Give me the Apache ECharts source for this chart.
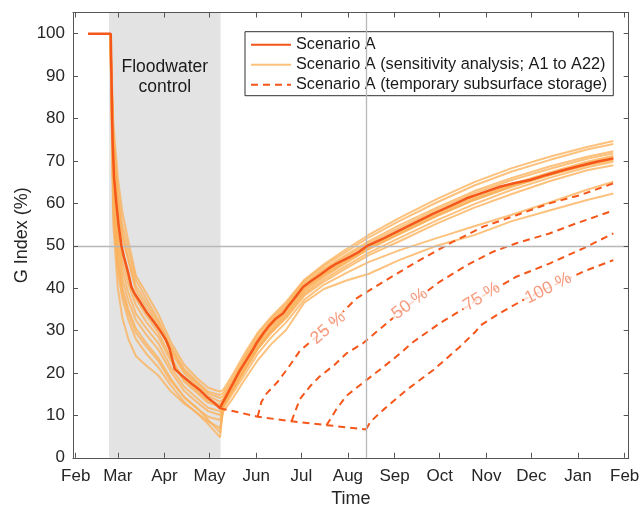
<!DOCTYPE html>
<html><head><meta charset="utf-8">
<script src="https://cdn.jsdelivr.net/npm/echarts@6/dist/echarts.min.js"></script>
<style>html,body{margin:0;padding:0;background:#fff}#c{width:643px;height:507px}</style>
</head><body><div id="c"></div>
<script>
// ---- axis ticks (days counted from 1 Feb) ----
const monthTicks = [0, 28, 59, 89, 120, 150, 181, 212, 242, 273, 303, 334, 365];
const monthLabels = ['Feb','Mar','Apr','May','Jun','Jul','Aug','Sep','Oct','Nov','Dec','Jan','Feb'];
const yTicks = [0, 10, 20, 30, 40, 50, 60, 70, 80, 90, 100];

// ---- Scenario A (main) [day, G index %] ----
const scenarioA = [[8.2,100],[23.3,100],[24.5,75],[25.5,66],[27,60],[28.5,55],[30.4,50],[32,47.5],[33.5,45.5],[35,43.5],
  [37,40.3],[39,38.8],[42,37.2],[47,34.4],[52,32],[55.9,30.1],[60,27.8],[62.5,25.6],[64,23.5],[65.9,20.9],[70,19.6],
  [74,18.4],[78,17.2],[83,15.8],[87,14.4],[92,13],[95.8,11.7],[100,14.5],[104.7,17.6],[109,20.5],[113.6,23.1],[117,25],
  [120.2,27],[125,29.5],[129,31.3],[133,32.8],[137.9,34.1],[141,35.6],[144.6,37.2],[148,38.8],[151.2,40.3],[157,41.8],
  [162.3,43.1],[168,44.6],[173.4,45.8],[178,46.6],[182.3,47.4],[188,48.5],[193.5,49.9],[205,51.8],[215.6,53.7],[227,55.7],
  [237.8,57.6],[250,59.5],[260,61.2],[268.8,62.3],[282,63.9],[292,64.8],[302,65.5],[313,66.7],[324,67.8],[335,68.8],
  [346.5,69.8],[357.5,70.6]];

// ---- sensitivity analysis runs (shared day grid) ----
const sensDays = [23,25,28,31,35,40,47,55,63,72,80,88,96,98,105,113,121,130,140,152,165,180,195,215,240,265,290,315,340,357.5];
const sens1  = [100,79,66,58,51,43,38.8,33.8,27.5,22,19,16.5,15.6,16,20,25,29.5,33.2,36.8,42,45.6,49.2,52.6,56.5,61,65,68.3,71,73.3,74.7];
const sens2  = [100,77,63,55,49,42,37.5,32.5,26.5,21,18.2,15.6,14.8,15.3,19.2,24.3,29,32.8,36.3,41.7,45.2,48.6,52,55.8,60.2,64.2,67.5,70.2,72.7,74];
const sens3  = [100,75,61,53,47,40.5,36.5,31.8,26,20.5,17.8,15.2,14.1,14.6,18.6,23.8,28.3,32.3,35.8,41.2,44.6,47.9,51.1,54.8,59,62.9,66,68.7,71,72.3];
const sens4  = [100,74,60,52,46.5,39.5,35.5,31,25.2,20,17.2,14.6,13.2,14,18.2,23.3,27.9,31.9,35.4,40.8,44.2,47.5,50.6,54.2,58.5,62.4,65.5,68.1,70.5,71.8];
const sens5  = [100,71,56,48,42.5,37.5,33.5,29.5,23.8,18.5,16,13.5,12.5,13.5,17.5,22.5,27,31.2,34.8,40.2,43.5,46.8,49.9,53.4,57.7,61.5,64.5,67.3,69.8,71.2];
const sens6  = [100,69,54,46,41,36,32,28.5,23,18,15.5,13,12,13.2,17.2,22.2,26.8,30.9,34.5,39.8,43.2,46.5,49.6,53.1,57.3,61.1,64.2,67,69.5,70.9];
const sens7  = [100,66,52,44,39,34,30.5,27,21.5,16.8,14.3,11.8,11,12.6,16.3,21,25.6,29.5,33,38.2,41.5,44.7,47.8,51,55.2,59,62.2,65.2,67.8,69];
const sens8  = [100,64,50,42,37,32.5,29,25.5,20.5,15.8,13.3,11,10.1,12.2,16.5,21.5,26.2,30.3,34,39.5,43,46.2,49.3,52.8,57,60.8,63.9,66.6,69,70.2];
const sens9  = [100,61,47,40,35,30.5,27,23.5,18.8,14.3,11.8,9.7,8.9,11.6,15.5,20,24.5,28.4,32,37.3,40.8,43.6,46.2,48.9,51.8,54.6,57.3,60.2,63.2,65.1];
const sens10 = [100,58,44,37.5,32.5,28,24.5,21.3,17.2,13.2,10.7,8.6,7,10.8,14.3,18.8,23,26.8,30.2,36.6,39.8,41.8,43.4,46.6,50,52.5,55.8,58.3,60.8,62.3];
const sens11 = [100,55,40,33,28,24,21.7,19.4,15.8,12.8,10.8,8,4.8,12,16.5,21.4,26,30,33.7,39,42.6,46,49.2,52.7,57,60.8,64,66.7,69.2,70.4];
const sens12 = [100,60,46,39,34,29.5,26.2,22.8,18.2,14.4,12,9,6,12.3,16.2,21,25.6,29.6,33.2,38.6,42,45.3,48.4,51.8,56,59.8,63.2,66,68.5,69.8];
const sensRuns = [sens1,sens2,sens3,sens4,sens5,sens6,sens7,sens8,sens9,sens10,sens11,sens12];

// ---- temporary subsurface storage [day, value] ----
const storageBase = [[95.8,11.7],[111,10.5],[121,9.7],[143.5,8.6],[166.8,7.7],[193,6.7]];
const storage25  = [[121,9.7],[123.5,13.2],[127,15.2],[134,17.8],[141,21.1],[149,25.2],[168,31],[186.7,37.6],[204.5,41.5],
  [226.7,46.2],[249,50.6],[271,54.5],[293,57.2],[315,60],[335,61.9],[357.5,64.7]];
const storage50  = [[143.5,8.6],[146,11],[149,13.8],[155.7,16.8],[162,19.1],[172,21.9],[180,24.6],[191,27],[200,29.7],
  [206.7,31.7],[222,36.2],[242,41.5],[260,45.4],[277.6,48.6],[293,50.6],[315,52.9],[333,55.3],[357.5,58.3]];
const storage75  = [[166.8,7.7],[170,9.5],[173.4,11.5],[180,14.6],[191,17.7],[202,20.7],[213,23.8],[224.4,27.3],[242,31.7],
  [260,35.6],[270,38],[293,42.7],[315,45.8],[337.5,49.4],[357.5,52.9]];
const storage100 = [[193,6.7],[196,8.5],[204.5,11.3],[220,16],[237.8,20.7],[255.5,26.2],[266,29.8],[269,31.2],[282,34.1],
  [298,37.3],[314,40],[337.5,43.9],[357.5,46.6]];
const storageLabelText = ['25 %','50 %','75 %','100 %'];
const storageLabelAt = [[167.9,30.6],[222.2,36.3],[270,38],[314.2,40]];
const storageLabelAngle = [41, 37, 32, 27];

// ---- annotations ----
const floodPeriod = [22.2, 96.3];
const refDay = 192.9, refValue = 50;

const N1 = 'Scenario A';
const N2 = 'Scenario A (sensitivity analysis; A1 to A22)';
const N3 = 'Scenario A (temporary subsurface storage)';
const FONT = 'Liberation Sans, Arial, Helvetica, sans-serif';
const RED = '#f5561a';

const series = [];
series.push({type:'line', name:'band', z:1, silent:true, data:[], symbol:'none',
  markArea:{silent:true, itemStyle:{color:'#e3e3e3'},
    label:{show:true, position:'insideTop', offset:[0,40], formatter:'Floodwater\ncontrol', color:'#1a1a1a',
      fontSize:17.5, fontFamily:FONT, lineHeight:20, align:'center'},
    data:[[{xAxis:floodPeriod[0]},{xAxis:floodPeriod[1]}]]}});
sensRuns.forEach(run => series.push({type:'line', name:N2, z:2, symbol:'none', showSymbol:false,
  lineStyle:{color:'#fbb15a', width:2, opacity:0.78}, itemStyle:{color:'#fbb15a'},
  data: sensDays.map((d,i)=>[d, run[i]])}));
series.push({type:'line', name:'ref', z:3, silent:true, data:[], symbol:'none',
  markLine:{silent:true, symbol:['none','none'], label:{show:false},
    lineStyle:{color:'#b8b8b8', width:1.3, type:'solid'},
    data:[{yAxis:refValue},{xAxis:refDay}]}});
[storageBase, storage25, storage50, storage75, storage100].forEach(s => series.push({type:'line', name:N3, z:4,
  symbol:'none', showSymbol:false, lineStyle:{color:RED, width:2, type:[7,5]}, itemStyle:{color:RED}, data:s}));
series.push({type:'scatter', name:'labels', z:6, symbolSize:0, silent:true,
  data: storageLabelAt.map((p,i)=>({value:p, label:{show:true, position:'inside', formatter:storageLabelText[i],
    rotate:storageLabelAngle[i], color:'#f4825f', fontSize:17.5, fontFamily:FONT, backgroundColor:'#fff', padding:[0,2]}}))});
series.push({type:'line', name:N1, z:5, symbol:'none', showSymbol:false,
  lineStyle:{color:RED, width:2.5}, itemStyle:{color:RED}, data:scenarioA});

const axisCol = '#555';
const chart = echarts.init(document.getElementById('c'), null, {renderer:'canvas'});
chart.setOption({
  animation:false,
  grid:{left:73, right:14.3, top:12.5, bottom:49.2, containLabel:false, outerBoundsMode:'none'},
  legend:{data:[N1,N2,N3], orient:'vertical', left:245, top:31.7, itemWidth:40, itemHeight:14, itemGap:4,
    padding:[5,6,3,5], backgroundColor:'#fff', borderColor:'#333', borderWidth:1, selectedMode:false,
    itemStyle:{opacity:0, color:'transparent', borderWidth:0},
    textStyle:{fontSize:16.3, fontFamily:FONT, color:'#1a1a1a'}},
  xAxis:[
    {type:'value', min:-1.8, max:367.7, position:'bottom', z:10,
     axisLine:{show:true, onZero:false, lineStyle:{color:axisCol, width:1}},
     axisTick:{show:true, inside:true, length:5, customValues:monthTicks, lineStyle:{color:axisCol}},
     axisLabel:{customValues:monthTicks, formatter:v=>monthLabels[monthTicks.indexOf(v)], color:'#262626',
       fontSize:17, fontFamily:FONT, margin:10},
     splitLine:{show:false},
     name:'Time', nameLocation:'middle', nameGap:32, nameTextStyle:{fontSize:18, fontFamily:FONT, color:'#262626'}},
    {type:'value', min:-1.8, max:367.7, position:'top', z:10,
     axisLine:{show:true, onZero:false, lineStyle:{color:axisCol, width:1}},
     axisTick:{show:true, inside:true, length:5, customValues:monthTicks, lineStyle:{color:axisCol}},
     axisLabel:{show:false}, splitLine:{show:false}}
  ],
  yAxis:[
    {type:'value', min:0, max:105, position:'left', z:10,
     axisLine:{show:true, onZero:false, lineStyle:{color:axisCol, width:1}},
     axisTick:{show:true, inside:true, length:5, customValues:yTicks, lineStyle:{color:axisCol}},
     axisLabel:{customValues:yTicks, color:'#262626', fontSize:17, fontFamily:FONT, margin:8},
     splitLine:{show:false},
     name:'G Index (%)', nameLocation:'middle', nameGap:42, nameMoveOverlap:false,
     nameTextStyle:{fontSize:18, fontFamily:FONT, color:'#262626'}},
    {type:'value', min:0, max:105, position:'right', z:10,
     axisLine:{show:true, onZero:false, lineStyle:{color:axisCol, width:1}},
     axisTick:{show:true, inside:true, length:5, customValues:yTicks, lineStyle:{color:axisCol}},
     axisLabel:{show:false}, splitLine:{show:false}}
  ],
  series: series
});
</script></body></html>
